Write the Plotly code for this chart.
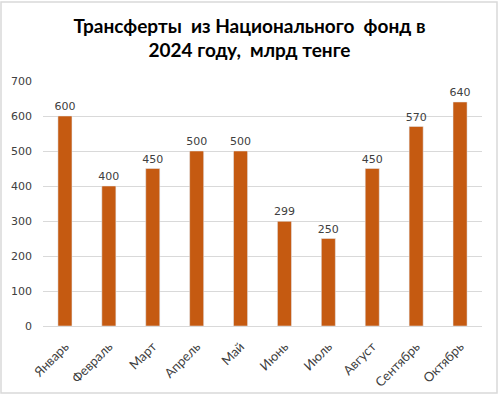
import plotly.graph_objects as go

months = ["Январь", "Февраль", "Март", "Апрель", "Май", "Июнь", "Июль", "Август", "Сентябрь", "Октябрь"]
values = [600, 400, 450, 500, 500, 299, 250, 450, 570, 640]
y_ticks = [0, 100, 200, 300, 400, 500, 600, 700]

fig = go.Figure(go.Bar(
    x=months, y=values, marker_color="#C55A11", width=0.32,
    text=[str(v) for v in values], textposition="outside",
    constraintext="none",
    textfont=dict(size=11, color="#404040", family="DejaVu Sans"),
    cliponaxis=False,
))

fig.update_layout(
    width=499, height=395,
    margin=dict(l=43, r=17, t=81, b=69, autoexpand=False),
    paper_bgcolor="white", plot_bgcolor="white",
    title=dict(text="<b>Трансферты  из Национального  фонд в<br>2024 году,  млрд тенге</b>",
               x=0.5, xanchor="center", y=0.917, yanchor="middle",
               font=dict(size=19, color="black", family="Lato")),
    font=dict(family="DejaVu Sans", size=11, color="#404040"),
    showlegend=False,
    uniformtext=dict(minsize=11, mode="show"),
    shapes=[dict(type="rect", xref="paper", yref="paper", x0=-42/439, x1=1+15/439,
                 y0=-67/245, y1=1+79/245, line=dict(color="#d9d9d9", width=1.5))],
)
fig.update_yaxes(range=[0, 700], tickvals=y_ticks, showgrid=True, gridcolor="#d9d9d9",
                 zeroline=False, showline=False, ticks="", ticklabelstandoff=10,
                 automargin=False,
                 tickfont=dict(size=11, family="DejaVu Sans", color="#404040"))
fig.update_xaxes(showline=True, linecolor="#d9d9d9", tickangle=-45, ticks="",
                 automargin=False, ticklabelstandoff=7,
                 tickfont=dict(size=13, family="Lato", color="#404040"))

fig.write_html("out.html", post_script="document.body.style.margin='0';",
               config={"displayModeBar": False})
